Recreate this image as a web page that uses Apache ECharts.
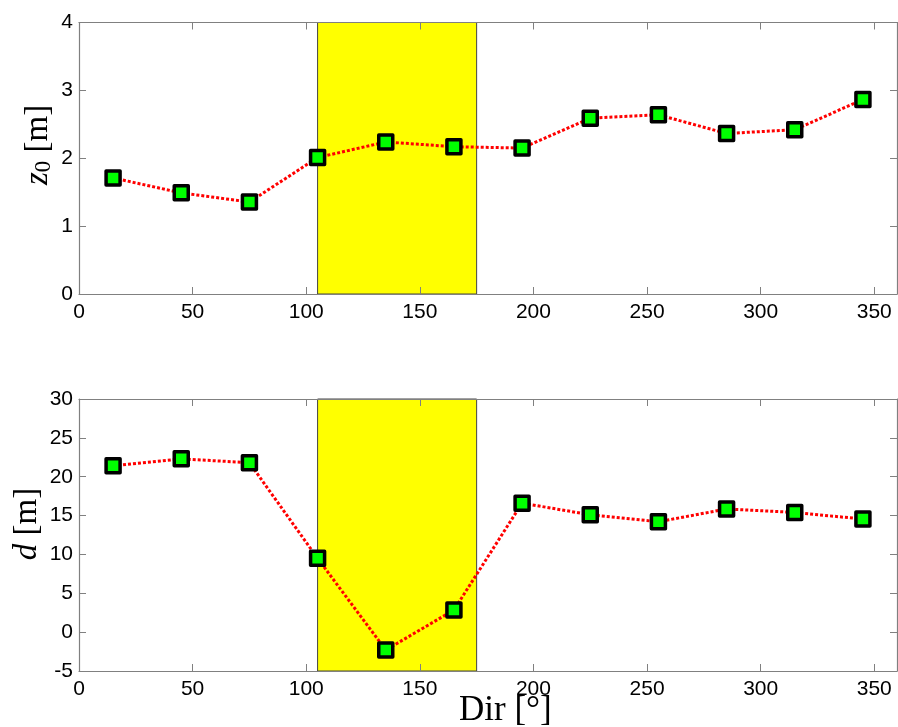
<!DOCTYPE html>
<html>
<head>
<meta charset="utf-8">
<script src="https://cdn.jsdelivr.net/npm/echarts@6/dist/echarts.min.js"></script>
<style>
  html, body { margin: 0; padding: 0; background: #fff; }
  #chart { width: 898px; height: 727px; }
</style>
</head>
<body>
<div id="chart"></div>
<script>
// Wind direction sectors (degrees)
const directions = [15, 45, 75, 105, 135, 165, 195, 225, 255, 285, 315, 345];
// Roughness length z0 [m] per sector
const z0Values = [1.71, 1.49, 1.355, 2.01, 2.24, 2.17, 2.15, 2.59, 2.64, 2.365, 2.42, 2.865];
// Displacement height d [m] per sector
const dValues = [21.4, 22.3, 21.8, 9.5, -2.3, 2.85, 16.6, 15.1, 14.2, 15.85, 15.4, 14.55];
// Highlighted sector range (degrees)
const bandRange = [105, 175];
// Axis settings
const xRange = [0, 360], xStep = 50;
const z0Range = [0, 4], z0Step = 1;
const dRange = [-5, 30], dStep = 5;

const chart = echarts.init(document.getElementById('chart'));

const axisColor = '#808080';
const sans = '"Liberation Sans", Arial, sans-serif';
const serif = '"Liberation Serif", "Times New Roman", serif';

function pairs(ys) { return directions.map((x, i) => [x, ys[i]]); }

function boxAxis(kind, grid, range, step, position, showLabels) {
  return {
    type: 'value', gridIndex: grid, min: range[0], max: range[1], interval: step,
    position: position, z: 5,
    axisLine: { show: true, onZero: false, lineStyle: { color: axisColor, width: 1.2 } },
    axisTick: { show: true, inside: true, length: 7, lineStyle: { color: axisColor, width: 1 } },
    axisLabel: showLabels
      ? { show: true, showMaxLabel: kind === 'x' ? false : true, color: '#000',
          fontFamily: sans, fontSize: 21, margin: kind === 'x' ? 8 : 6 }
      : { show: false },
    splitLine: { show: false }
  };
}

function lineSeries(xi, yi, ys) {
  return {
    type: 'line', xAxisIndex: xi, yAxisIndex: yi, data: pairs(ys),
    symbol: 'rect', symbolSize: 14,
    itemStyle: { color: '#00ff00', borderColor: '#000', borderWidth: 3.5, borderJoin: 'round' },
    lineStyle: { color: '#ff0000', width: 3, type: [3, 2] },
    z: 3, animation: false,
    markArea: {
      silent: true,
      itemStyle: { color: '#ffff00', borderColor: '#444', borderWidth: 1 },
      data: [[{ xAxis: bandRange[0] }, { xAxis: bandRange[1] }]]
    }
  };
}

chart.setOption({
  animation: false,
  grid: [
    { left: 79, top: 22.5, width: 818, height: 271.5 },
    { left: 79, top: 399, width: 818, height: 272 }
  ],
  xAxis: [
    boxAxis('x', 0, xRange, xStep, 'bottom', true),
    boxAxis('x', 0, xRange, xStep, 'top', false),
    boxAxis('x', 1, xRange, xStep, 'bottom', true),
    boxAxis('x', 1, xRange, xStep, 'top', false)
  ],
  yAxis: [
    boxAxis('y', 0, z0Range, z0Step, 'left', true),
    boxAxis('y', 0, z0Range, z0Step, 'right', false),
    boxAxis('y', 1, dRange, dStep, 'left', true),
    boxAxis('y', 1, dRange, dStep, 'right', false)
  ],
  series: [lineSeries(0, 0, z0Values), lineSeries(2, 2, dValues)],
  graphic: [
    {
      type: 'text', x: 38, y: 145, rotation: Math.PI / 2,
      style: {
        text: '{it|z}{sub|0}{n| [m]}', align: 'center', verticalAlign: 'middle',
        rich: {
          it: { fontFamily: serif, fontStyle: 'italic', fontSize: 33, fill: '#000' },
          sub: { fontFamily: serif, fontSize: 23, fill: '#000', padding: [12, 0, 0, 0] },
          n: { fontFamily: serif, fontSize: 33, fill: '#000' }
        }
      }
    },
    {
      type: 'text', x: 27, y: 524, rotation: Math.PI / 2,
      style: {
        text: '{it|d}{n| [m]}', align: 'center', verticalAlign: 'middle',
        rich: {
          it: { fontFamily: serif, fontStyle: 'italic', fontSize: 33, fill: '#000' },
          n: { fontFamily: serif, fontSize: 33, fill: '#000' }
        }
      }
    },
    {
      type: 'text', x: 459, y: 711,
      style: {
        text: 'Dir [°]', fontFamily: serif, fontSize: 35, fill: '#000',
        align: 'left', verticalAlign: 'middle'
      }
    }
  ]
});
</script>
</body>
</html>
